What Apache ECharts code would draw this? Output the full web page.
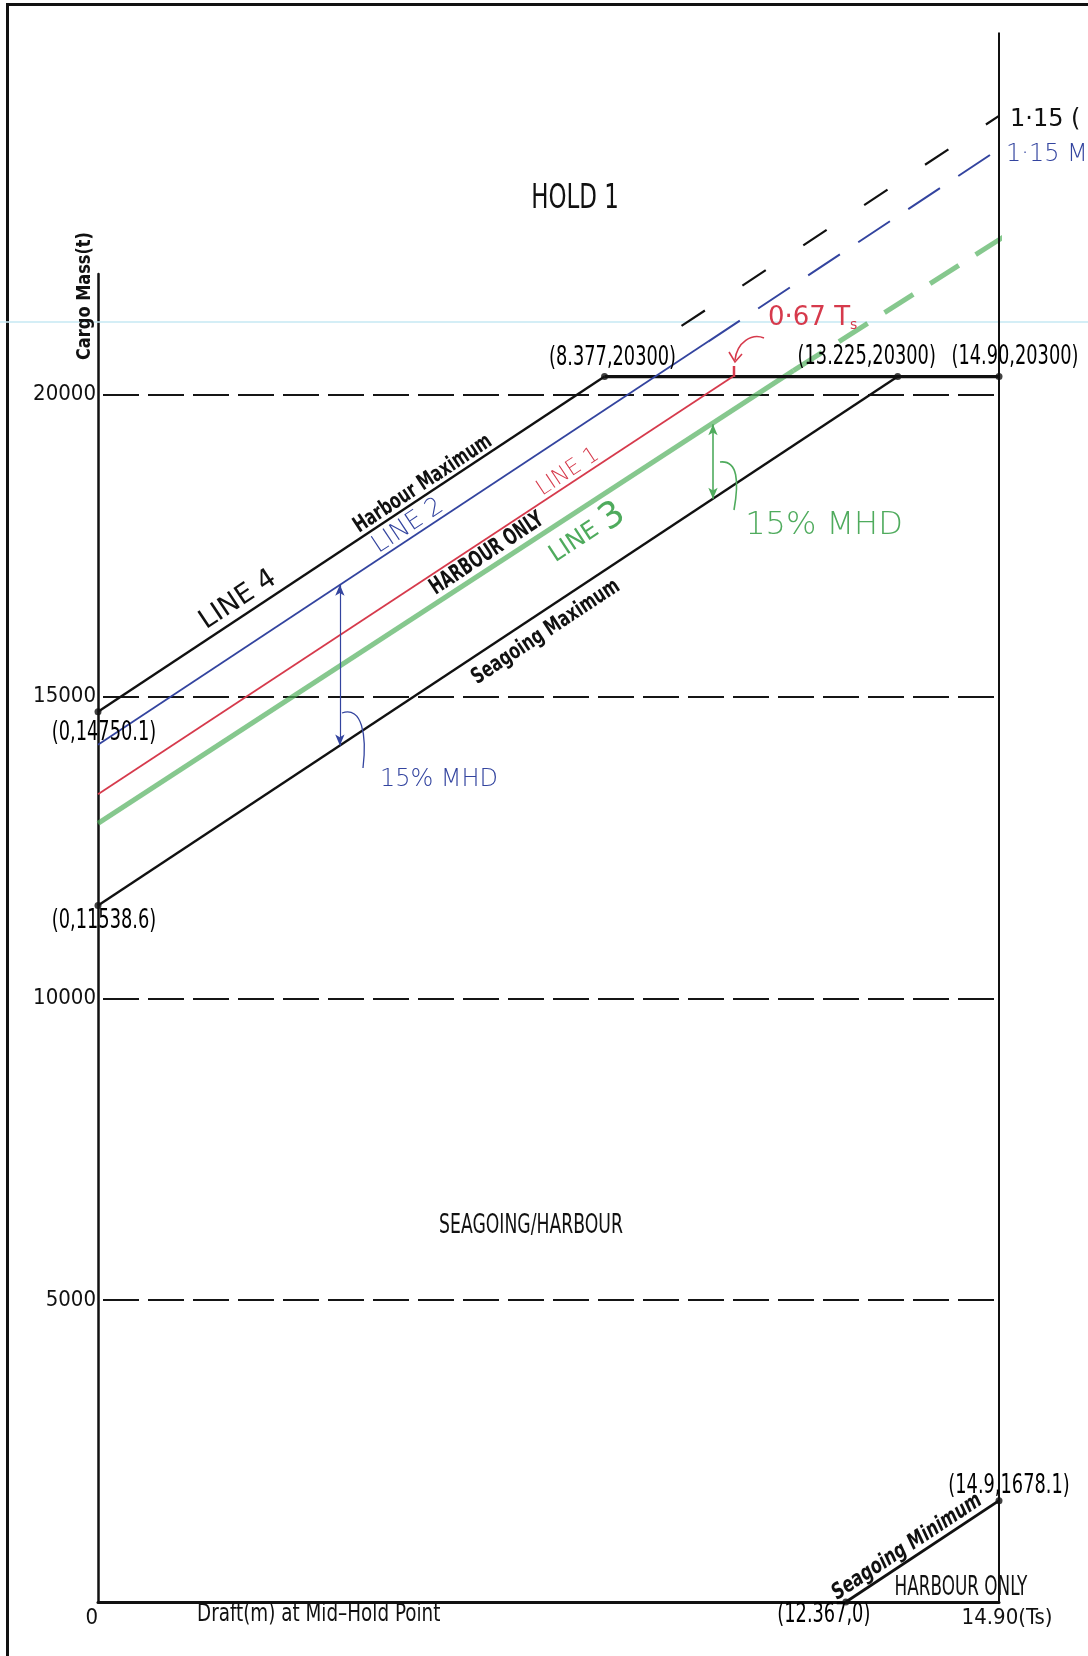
<!DOCTYPE html>
<html>
<head>
<meta charset="utf-8">
<title>HOLD 1</title>
<script src="https://cdn.jsdelivr.net/npm/echarts@6/dist/echarts.min.js"></script>
<style>
  html, body { margin: 0; padding: 0; background: #fff; }
  #chart { width: 1088px; height: 1656px; }
</style>
</head>
<body>
<div id="chart"></div>
<script>
// boundary lines of the loading diagram (draft m, cargo mass t)
const harbourMax = [[0, 14750.1], [8.377, 20300]];
const harbourMaxExt = [[9.65, 21140], [14.9, 24620]];
const topLimit = [[8.377, 20300], [14.9, 20300]];
const seagoingMax = [[0, 11538.6], [13.225, 20300]];
const seagoingMin = [[12.367, 0], [14.9, 1678.1]];
const rightLimit = [[14.9, 0], [14.9, 26000]];

// hand drawn lines
const line2 = [[0, 14200], [10.09, 20880]];
const line2Ext = [[10.09, 20880], [14.9, 24070]];
const line1 = [[0, 13380], [10.5, 20300]];
const line3 = [[0, 12900], [11.5, 20400]];
const line3Ext = [[11.5, 20400], [15.0, 22630]];
const arrow2 = [[4.0, 16850], [4.0, 14188]];
const arrow3 = [[10.17, 19511], [10.17, 18276]];

// corner points and their labels
const keyPoints = [[0, 14750.1], [0, 11538.6], [8.377, 20300], [13.225, 20300], [14.9, 20300], [14.9, 1678.1], [12.367, 0]];
const keyLabels = ['(0,14750.1)', '(0,11538.6)', '(8.377,20300)', '(13.225,20300)', '(14.90,20300)', '(14.9,1678.1)', '(12.367,0)'];
const xLabels = ['0', '14.90(Ts)'];

const NARROW = "'Liberation Sans Narrow','DejaVu Sans Condensed','DejaVu Sans',sans-serif";
const HAND = "'DejaVu Sans',sans-serif";
const BLUE = '#33449f';
const RED = '#d63a4c';
const GREEN = '#4fab5d';
const ROT = Math.atan(0.661);

// where each point label sits relative to its point (px)
const labelOffsets = [[6, 22], [6, 16], [8, -18], [-31, -19], [16, -19], [10, -14], [-22, 13]];

function ln(data, color, width, type, z) {
  return {
    type: 'line', data: data, symbol: 'none', clip: false, silent: true,
    lineStyle: { color: color, width: width, type: type || 'solid' }, z: z || 3
  };
}

// static text, sx squeezes it to look like the condensed drafting font
function txt(x, y, text, o) {
  o = o || {};
  return {
    type: 'text', x: x, y: y, rotation: o.rot || 0, scaleX: o.sx || 1, z: 20, silent: true,
    style: {
      text: text, fill: o.color || '#111',
      fontFamily: o.font || NARROW, fontSize: o.size || 22,
      fontWeight: o.weight || 'normal', fontStyle: o.style || 'normal',
      align: o.align || 'center', verticalAlign: 'middle',
      textAlign: o.align || 'center', textVerticalAlign: 'middle',
      rich: o.rich
    }
  };
}

const chart = echarts.init(document.getElementById('chart'));

const graphics = [
  // page frame and scan line
  { type: 'polyline', silent: true, z: 1, shape: { points: [[7.5, 1656], [7.5, 4.5], [1088, 4.5]] }, style: { stroke: '#111', lineWidth: 3, fill: null } },
  { type: 'line', silent: true, z: 1, shape: { x1: 0, y1: 322, x2: 1088, y2: 322 }, style: { stroke: '#c6e9f3', lineWidth: 1.5 } },

  txt(575, 199, 'HOLD 1', { size: 34, sx: 0.75 }),
  txt(85, 296, 'Cargo Mass(t)', { rot: Math.PI / 2, size: 20, weight: 'bold', sx: 0.9 }),
  txt(197, 1615, 'Draft(m) at Mid\u2013Hold Point', { align: 'left', size: 24, sx: 0.85 }),
  txt(531, 1226, 'SEAGOING/HARBOUR', { size: 27, sx: 0.71 }),
  txt(961, 1588, 'HARBOUR ONLY', { size: 26, sx: 0.72 }),

  txt(423, 484, 'Harbour Maximum', { rot: ROT, size: 22, sx: 0.78, weight: 'bold' }),
  txt(487, 554, 'HARBOUR ONLY', { rot: ROT, size: 23, sx: 0.72, weight: 'bold' }),
  txt(546, 632, 'Seagoing Maximum', { rot: ROT, size: 22, sx: 0.79, weight: 'bold' }),
  txt(907, 1547, 'Seagoing Minimum', { rot: ROT, size: 22, sx: 0.82, style: 'italic', weight: 'bold' }),

  // handwritten notes
  txt(238, 600, 'LINE 4', { rot: ROT, font: HAND, size: 27 }),
  txt(408, 526, 'LINE 2', { rot: ROT, font: HAND, size: 25, weight: 200, color: BLUE }),
  txt(568, 472, 'LINE 1', { rot: ROT, font: HAND, size: 22, weight: 200, color: RED }),
  txt(587, 534, '{a|LINE }{b|3}', {
    rot: ROT, font: HAND, size: 24, weight: 200, color: GREEN,
    rich: { a: { fontSize: 24, fill: GREEN, fontFamily: HAND }, b: { fontSize: 36, fill: GREEN, fontFamily: HAND } }
  }),
  txt(439, 780, '15% MHD', { font: HAND, size: 24, weight: 200, color: BLUE }),
  txt(824, 526, '15% MHD', { font: HAND, size: 32, weight: 200, color: GREEN }),
  txt(768, 318, '{a|0\u00b767 T}{s|s}', {
    align: 'left', font: HAND, size: 26, weight: 200, color: RED,
    rich: { a: { fontSize: 26, fill: RED, fontFamily: HAND }, s: { fontSize: 14, fill: RED, fontFamily: HAND, padding: [14, 0, 0, 0] } }
  }),
  txt(1010, 120, '1\u00b715 (', { align: 'left', font: HAND, size: 24 }),
  txt(1006, 155, '1\u00b715 MH', { align: 'left', font: HAND, size: 24, weight: 200, color: BLUE }),

  // leaders and the red arrow
  { type: 'bezierCurve', silent: true, z: 15, shape: { x1: 342, y1: 713, cpx1: 362, cpy1: 706, cpx2: 367, cpy2: 735, x2: 363, y2: 768 }, style: { stroke: BLUE, lineWidth: 1.3, fill: null } },
  { type: 'bezierCurve', silent: true, z: 15, shape: { x1: 720, y1: 462, cpx1: 738, cpy1: 460, cpx2: 739, cpy2: 482, x2: 734, y2: 510 }, style: { stroke: GREEN, lineWidth: 1.6, fill: null } },
  { type: 'bezierCurve', silent: true, z: 15, shape: { x1: 764, y1: 338, cpx1: 752, cpy1: 333, cpx2: 737, cpy2: 342, x2: 735, y2: 360 }, style: { stroke: RED, lineWidth: 1.6, fill: null } },
  { type: 'polyline', silent: true, z: 15, shape: { points: [[729, 352], [735, 362], [742, 354]] }, style: { stroke: RED, lineWidth: 1.6, fill: null } },
  { type: 'line', silent: true, z: 15, shape: { x1: 734, y1: 366, x2: 734, y2: 377 }, style: { stroke: RED, lineWidth: 2.5 } }
];

const option = {
  animation: false,
  backgroundColor: '#fff',
  grid: { left: 98, right: 89, top: 274, bottom: 54, containLabel: false },
  xAxis: {
    type: 'value', min: 0, max: 14.9, interval: 14.9,
    axisLine: { lineStyle: { color: '#111', width: 3 } },
    axisTick: { show: false },
    splitLine: { show: false },
    axisLabel: {
      margin: 5, color: '#111', fontFamily: NARROW, fontSize: 22,
      alignMinLabel: 'right',
      formatter: function (v) { return v === 0 ? xLabels[0] : '{r|' + xLabels[1] + '}'; },
      rich: { r: { padding: [0, 0, 0, 16], color: '#111', fontFamily: NARROW, fontSize: 22 } }
    }
  },
  yAxis: {
    type: 'value', min: 0, max: 22000, interval: 5000,
    axisLine: { show: true, lineStyle: { color: '#111', width: 2.5 } },
    axisTick: { show: false },
    axisLabel: {
      margin: 2, color: '#111', fontFamily: NARROW, fontSize: 22,
      formatter: function (v) { return (v === 0 || v > 20000) ? '' : String(v); }
    },
    splitLine: {
      show: true, showMinLine: false, showMaxLine: false,
      lineStyle: { color: '#151515', width: 1.8, type: [36, 9], dashOffset: 40 }
    }
  },
  series: [
    ln(harbourMax, '#111', 2.4),
    ln(harbourMaxExt, '#111', 2.2, [28, 45]),
    ln(topLimit, '#111', 3.4),
    ln(seagoingMax, '#111', 2.4),
    ln(seagoingMin, '#111', 2.8),
    ln(rightLimit, '#111', 2),
    ln(line3, 'rgba(82,176,94,0.7)', 5, 'solid', 2),
    ln(line3Ext, 'rgba(82,176,94,0.7)', 5, [34, 20], 2),
    ln(line1, RED, 1.8),
    Object.assign(ln(line2, BLUE, 1.8), {
      markLine: {
        silent: true, symbol: ['arrow', 'arrow'], symbolSize: [7, 11],
        label: { show: false },
        lineStyle: { color: BLUE, width: 1.2, type: 'solid' },
        data: [[{ coord: arrow2[0] }, { coord: arrow2[1] }]]
      }
    }),
    ln(line2Ext, BLUE, 2, [38, 22]),
    Object.assign(ln([], GREEN, 1), {
      markLine: {
        silent: true, symbol: ['arrow', 'arrow'], symbolSize: [7, 11],
        label: { show: false },
        lineStyle: { color: GREEN, width: 1.6, type: 'solid' },
        data: [[{ coord: arrow3[0] }, { coord: arrow3[1] }]]
      }
    }),
    {
      type: 'scatter', clip: false, silent: true, z: 6,
      symbolSize: 7, itemStyle: { color: '#111' },
      data: keyPoints
    }
  ],
  graphic: graphics
};

chart.setOption(option);

// point labels: anchored on the points through the grid's own scale
const pointLabels = keyPoints.map(function (p, i) {
  const px = chart.convertToPixel({ gridIndex: 0 }, p);
  return txt(px[0] + labelOffsets[i][0], px[1] + labelOffsets[i][1], keyLabels[i], { size: 26, sx: 0.76, color: '#000' });
});
chart.setOption({ graphic: graphics.concat(pointLabels) });
</script>
</body>
</html>
